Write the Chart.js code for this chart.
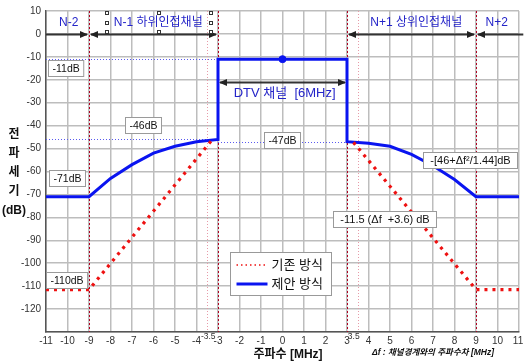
<!DOCTYPE html>
<html>
<head>
<meta charset="utf-8">
<script src="https://cdn.jsdelivr.net/npm/chart.js@4.4.1/dist/chart.umd.min.js"></script>
<style>
html,body{margin:0;padding:0;background:#fff;}
#wrap{width:524px;height:364px;position:relative;}
</style>
</head>
<body>
<div id="wrap"><canvas id="c" width="524" height="364"></canvas></div>
<script>
// ---- data ----
const xTicks = [-11,-10,-9,-8,-7,-6,-5,-4,-3,-2,-1,0,1,2,3,4,5,6,7,8,9,10,11];
const xExtraTicks = [-3.5, 3.5];
const yTicks = [10,0,-10,-20,-30,-40,-50,-60,-70,-80,-90,-100,-110,-120];

// proposed mask (제안 방식)
const proposedX = [-11,-9,-8,-7,-6,-5,-4,-3,-3,0,3,3,4,5,6,7,8,9,11];
const proposedY = [-71,-71,-63,-57,-52,-49,-47,-46,-11,-11,-11,-47,-47.7,-49,-52.5,-57.5,-63.5,-71,-71];
// existing mask (기존 방식), lower and upper sides
const existingLeftX = [-11,-9,-3.3];
const existingLeftY = [-111.5,-111.5,-46.5];
const existingRightX = [3.3,9,11];
const existingRightY = [-47.3,-111.5,-111.5];
// marker at channel centre
const centerX = [0];
const centerY = [-11];

const legendLabels = ['기존 방식','제안 방식'];
const channelBounds = [-9,-3,3,9];
const innerBounds = [-3.5,3.5];

const FONT = '"Liberation Sans","Noto Sans CJK KR",sans-serif';
const BLUE = '#0a14f0';
const RED = '#ee1111';
const TXTBLUE = '#2424c8';

function pts(xs, ys){ return xs.map((v,i)=>({x:v,y:ys[i]})); }

const overlay = {
  id:'overlay',
  beforeDatasetsDraw(chart){
    const {ctx, chartArea:a, scales:{x,y}} = chart;
    ctx.save();
    ctx.lineWidth = 1;
    channelBounds.forEach(v=>{
      const X = Math.round(x.getPixelForValue(v))+0.5;
      ctx.strokeStyle = '#b00020'; ctx.setLineDash([2,2]);
      ctx.beginPath(); ctx.moveTo(X,a.top); ctx.lineTo(X,a.bottom); ctx.stroke();
    });
    innerBounds.forEach(v=>{
      const X = Math.round(x.getPixelForValue(v))+0.5;
      ctx.strokeStyle = '#e79aa8'; ctx.setLineDash([1,2]);
      ctx.beginPath(); ctx.moveTo(X,a.top); ctx.lineTo(X,a.bottom); ctx.stroke();
    });
    ctx.strokeStyle = '#5a5af0'; ctx.setLineDash([1,2]);
    const hl = [[-11,-3,-11],[-11,-3,-46],[-3,3,-47]];
    hl.forEach(([x1,x2,v])=>{
      const Y = Math.round(y.getPixelForValue(v))+0.5;
      ctx.beginPath(); ctx.moveTo(x.getPixelForValue(x1),Y); ctx.lineTo(x.getPixelForValue(x2),Y); ctx.stroke();
    });
    ctx.restore();
  },
  afterDatasetsDraw(chart){
    const {ctx, chartArea:a, scales:{x,y}} = chart;
    const px = v=>x.getPixelForValue(v), py = v=>y.getPixelForValue(v);
    ctx.save();
    ctx.setLineDash([]);
    function head(X,Y,dir){
      ctx.beginPath(); ctx.moveTo(X,Y); ctx.lineTo(X-dir*8,Y-3.5); ctx.lineTo(X-dir*8,Y+3.5); ctx.closePath(); ctx.fill();
    }
    function arrow(x1,x2,v,hs,he){
      const X1=px(x1), X2=px(x2), Y=Math.round(py(v))+0.5;
      ctx.strokeStyle='#333'; ctx.fillStyle='#222'; ctx.lineWidth=2;
      ctx.beginPath(); ctx.moveTo(X1+(hs?2:0),Y); ctx.lineTo(X2-(he?2:0),Y); ctx.stroke();
      if(hs) head(X1+1,Y,-1);
      if(he) head(X2-1,Y,1);
    }
    arrow(-11,-9,0,false,true);
    arrow(-9,-3,0,true,true);
    arrow(3,9,0,true,true);
    arrow(9,11.2,0,true,false);
    arrow(-3,3,-21,true,true);

    ctx.fillStyle = TXTBLUE; ctx.textAlign='center'; ctx.textBaseline='middle';
    ctx.font = '12px '+FONT;
    [['N-2',-9.94],['N-1 하위인접채널',-5.78],['N+1 상위인접채널',6.22],['N+2',9.96]].forEach(([t,v])=>{
      ctx.fillText(t, px(v), py(4.8));
    });
    ctx.font = '13px '+FONT;
    ctx.fillText('DTV 채널  [6MHz]', px(0.1), py(-26));

    ctx.strokeStyle='#333'; ctx.fillStyle='#fff'; ctx.lineWidth=1;
    [[-8.14,9.2],[-8.14,4.8],[-8.14,0.9],[-5.74,9.2],[-5.74,0.9],[-3.34,9.2],[-3.34,4.8],[-3.34,0.9]].forEach(([u,v])=>{
      const X=Math.round(px(u))-1.5, Y=Math.round(py(v))-1.5;
      ctx.fillRect(X,Y,3,3); ctx.strokeRect(X,Y,3,3);
    });

    function box(t,u,v,w,fs){
      ctx.font = (fs||10.5)+'px '+FONT;
      const tw = w || ctx.measureText(t).width+8;
      const X = Math.round(px(u)-tw/2)+0.5, Y = Math.round(py(v)-8)+0.5;
      ctx.fillStyle='#fff'; ctx.fillRect(X,Y,tw,16);
      ctx.strokeStyle='#9a9a9a'; ctx.lineWidth=1; ctx.strokeRect(X,Y,tw,16);
      ctx.fillStyle='#111'; ctx.textAlign='center'; ctx.textBaseline='middle';
      ctx.fillText(t, X+tw/2, Y+8.5);
    }
    box('-11dB',-10.07,-14.8);
    box('-46dB',-6.5,-39.7);
    box('-71dB',-10.0,-63);
    box('-110dB',-10.03,-107.4);
    box('-47dB',0.0,-46.3);
    box('-[46+\u0394f\u00B2/1.44]dB',8.72,-55,94,11);
    box('-11.5 (\u0394f  +3.6) dB',4.74,-80.8,103,11);

    const L=Math.round(px(-2.46))+0.5, T=Math.round(py(-95.2))+0.5, R=Math.round(px(2.25))+0.5, B=Math.round(py(-114))+0.5;
    ctx.fillStyle='#fff'; ctx.fillRect(L,T,R-L,B-T);
    ctx.strokeStyle='#999'; ctx.lineWidth=1; ctx.strokeRect(L,T,R-L,B-T);
    const rows=[T+12.5, T+31.5];
    ctx.strokeStyle=RED; ctx.lineWidth=1.5; ctx.setLineDash([1.5,3]);
    ctx.beginPath(); ctx.moveTo(L+6,rows[0]); ctx.lineTo(L+37,rows[0]); ctx.stroke();
    ctx.setLineDash([]); ctx.strokeStyle=BLUE; ctx.lineWidth=3;
    ctx.beginPath(); ctx.moveTo(L+6,rows[1]); ctx.lineTo(L+37,rows[1]); ctx.stroke();
    ctx.fillStyle='#111'; ctx.font='13px '+FONT; ctx.textAlign='left'; ctx.textBaseline='middle';
    ctx.fillText(legendLabels[0], L+41, rows[0]);
    ctx.fillText(legendLabels[1], L+41, rows[1]);

    ctx.fillStyle='#333'; ctx.font='10px '+FONT; ctx.textAlign='center'; ctx.textBaseline='middle';
    xTicks.forEach(v=>{ ctx.fillText(String(v), px(v)+(v===11?-1:0), a.bottom+9.5); });
    ctx.font='8.5px '+FONT;
    ctx.fillText('-3.5', px(xExtraTicks[0])+1, a.bottom+5);
    ctx.fillText('3.5', px(xExtraTicks[1])-4, a.bottom+4.5);

    ctx.fillStyle='#111'; ctx.font='bold 12px '+FONT; ctx.textAlign='center';
    ctx.fillText('주파수 [MHz]', 288, 355);
    ctx.font='italic bold 8.5px '+FONT;
    ctx.fillText('\u0394f : 채널경계와의 주파수차 [MHz]', 433, 353);
    ctx.font='bold 12px '+FONT;
    ['전','파','세','기','(dB)'].forEach((t,i)=>{ ctx.fillText(t, 14, 135+i*19); });
    ctx.restore();
  }
};

new Chart(document.getElementById('c'), {
  type:'scatter',
  data:{
    datasets:[
      {label:legendLabels[0], data:pts(existingLeftX,existingLeftY), showLine:true, borderColor:RED, borderWidth:3.2, borderDash:[3,5], borderCapStyle:'butt', pointRadius:0, fill:false},
      {label:legendLabels[0], data:pts(existingRightX,existingRightY), showLine:true, borderColor:RED, borderWidth:3.2, borderDash:[3,5], borderCapStyle:'butt', pointRadius:0, fill:false},
      {label:legendLabels[1], data:pts(proposedX,proposedY), showLine:true, borderColor:BLUE, borderWidth:3, borderJoinStyle:'miter', pointRadius:0, fill:false},
      {label:'center', data:pts(centerX,centerY), pointRadius:3.5, pointBackgroundColor:BLUE, pointBorderColor:BLUE}
    ]
  },
  options:{
    responsive:false, animation:false, devicePixelRatio:1,
    layout:{padding:{top:11,right:1,left:0,bottom:0}},
    plugins:{legend:{display:false}, tooltip:{enabled:false}},
    scales:{
      x:{type:'linear', min:-11, max:11,
        afterBuildTicks(s){ s.ticks = xTicks.map(v=>({value:v})); },
        afterFit(s){ s.height = 32; },
        ticks:{display:false},
        grid:{color:'#bdbdbd', lineWidth:1.5, drawTicks:false},
        border:{color:'#555', width:1.5}
      },
      y:{type:'linear', min:-130, max:10,
        afterBuildTicks(s){ s.ticks = yTicks.concat([-130]).map(v=>({value:v})); },
        afterFit(s){ s.width = 46; },
        ticks:{padding:5, color:'#333', font:{family:FONT, size:10}, callback:v=> v===-130?'':String(v)},
        grid:{color:'#bdbdbd', lineWidth:1.5, drawTicks:false},
        border:{color:'#555', width:1.5}
      }
    }
  },
  plugins:[overlay]
});
</script>
</body>
</html>
